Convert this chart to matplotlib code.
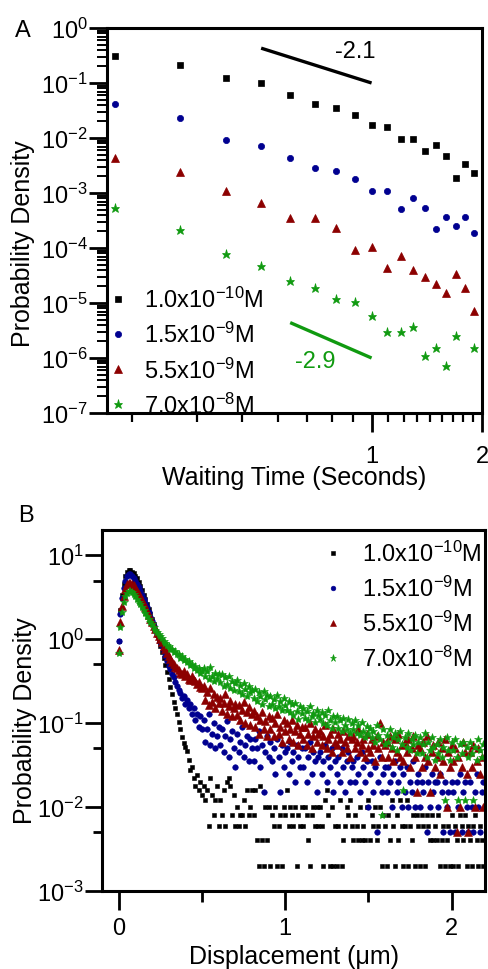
import numpy as np
import matplotlib
matplotlib.use('Agg')
import matplotlib.pyplot as plt
from matplotlib.ticker import LogLocator, FixedLocator, FixedFormatter, NullFormatter, LogFormatterSciNotation

plt.rcParams['font.family'] = ['Liberation Sans', 'DejaVu Sans']
plt.rcParams['mathtext.fontset'] = 'custom'
plt.rcParams['mathtext.rm'] = 'Liberation Sans'
plt.rcParams['mathtext.it'] = 'Liberation Sans:italic'
plt.rcParams['mathtext.bf'] = 'Liberation Sans:bold'
plt.rcParams['mathtext.default'] = 'regular'
plt.rcParams['axes.unicode_minus'] = False

# ---------------- data ----------------
labels = ['1.0x10$^{-10}$M', '1.5x10$^{-9}$M', '5.5x10$^{-9}$M', '7.0x10$^{-8}$M']
colors = ['#000000', '#000090', '#8c0000', '#109a10']

# Panel A: waiting time distributions
wait_time = [0.2, 0.3, 0.4, 0.5, 0.6, 0.7, 0.8, 0.9, 1.0, 1.1, 1.2, 1.3, 1.4, 1.5, 1.6, 1.7, 1.8, 1.9]
waitA_black = [0.31, 0.21, 0.123, 0.10, 0.061, 0.041, 0.035, 0.026, 0.017, 0.016, 0.0095, 0.0095,
               0.0058, 0.0075, 0.0047, 0.0019, 0.0034, 0.0023]
waitA_blue = [0.041, 0.023, 0.0092, 0.0072, 0.0044, 0.0028, 0.0025, 0.0018, 0.0011, 0.0011, 5.1e-4, 8.0e-4,
              5.3e-4, 2.2e-4, 3.7e-4, 2.5e-4, 3.7e-4, 1.9e-4]
waitA_red = [0.0044, 0.0024, 0.0011, 6.6e-4, 3.5e-4, 3.5e-4, 2.3e-4, 9.2e-5, 1.04e-4, 4.3e-5, 7.1e-5, 4.0e-5,
             3.0e-5, 2.2e-5, 1.5e-5, 3.4e-5, 1.9e-5, 7.1e-6]
waitA_green = [5.3e-4, 2.1e-4, 7.8e-5, 4.7e-5, 2.5e-5, 1.9e-5, 1.2e-5, 1.05e-5, 5.8e-6, 3.0e-6, 3.0e-6, 3.7e-6,
               1.1e-6, 1.5e-6, 7.1e-7, 2.5e-6, np.nan, 1.5e-6]
slope1_t = [0.5, 1.0]
slope1_p = [0.43, 0.10]
slope2_t = [0.6, 1.0]
slope2_p = [4.4e-6, 1.0e-6]

# Panel B: displacement distributions (bins of 0.01 um), values = counts * unit
disp_um = np.round(np.arange(0, 220) * 0.01, 2)
unit_black, unit_blue, unit_red, unit_green = 0.002, 0.005, 0.005, 0.004
counts_black = ([475, 1100, 1700, 2300, 2800, 3150, 3300, 3300, 3200, 3050,
                 2850, 2650, 2400, 2150, 1925, 1700, 1500, 1300, 1150, 1000,
                 875, 750, 650, 560, 480, 410, 350, 295, 245, 205,
                 170, 135, 110, 90, 75, 65, 52, 42, 34, 29,
                 26, 23, 18, 14, 15, 11, 9, 12, 8, 10, 7] +
                [9, 6, 8, 3, 11, 7, 4, 6, 9, 3, 6, 4, 8, 3, 10, 11, 9, 4, 7, 3,
                 5, 3, 4, 4, 6, 3, 8, 4, 5, 8, 4, 8, 2, 1, 9, 2, 1, 5, 2, 5,
                 1, 4, 3, 5, 1, 3, 4, 1, 5, 4, 8, 3, 5, 4, 3, 5, 1, 4, 3, 5,
                 3, 5, 4, 2, 1, 4, 5, 3, 5, 3, 5, 3, 1, 6, 8, 4, 1, 5, 1, 3,
                 1, 3, 6, 1, 2, 3, 5, 4, 6, 3, 2, 4, 3, 2, 5, 2, 3, 2, 5, 6,
                 2, 4, 3, 5, 2, 3, 5, 1, 4, 3, 1, 4, 2, 6, 3, 1, 4, 2, 6, 3,
                 1, 3, 6, 1, 3, 2, 4, 1, 4, 3, 1, 4, 3, 1, 4, 3, 2, 4, 2, 3,
                 2, 4, 1, 2, 3, 1, 2, 3, 1, 4, 1, 3, 2, 1, 4, 3, 2, 4, 1, 3,
                 2, 1, 3, 4, 2, 1, 3, 2, 1])
counts_blue = ([190, 400, 620, 820, 1000, 1120, 1180, 1180, 1140, 1080,
                1000, 920, 840, 760, 680, 600, 540, 480, 420, 370,
                330, 290, 260, 230, 204, 184, 164, 144, 126, 110,
                96, 88, 78, 70, 62, 56, 50, 46, 40, 42,
                34, 38, 30, 34, 26, 30, 22, 26, 18, 24, 17] +
               [22, 12, 17, 26, 11, 15, 20, 10, 14, 18, 11, 17, 9, 14, 21, 8, 13, 16, 10, 6,
                15, 9, 12, 18, 8, 11, 14, 7, 13, 10, 7, 13, 10, 16, 6, 11, 3, 9, 14, 8,
                12, 7, 10, 5, 13, 8, 3, 11, 6, 9, 10, 5, 12, 7, 9, 4, 11, 8, 6, 10,
                6, 10, 4, 8, 12, 5, 9, 7, 3, 8, 9, 5, 7, 11, 4, 8, 6, 10, 3, 7,
                5, 8, 4, 10, 6, 3, 7, 9, 4, 6, 7, 4, 8, 5, 3, 9, 6, 4, 7, 2,
                5, 7, 3, 6, 1, 4, 8, 3, 5, 6, 3, 6, 4, 2, 5, 7, 3, 4, 6, 2,
                5, 3, 6, 2, 4, 3, 7, 2, 4, 5, 2, 4, 3, 6, 1, 4, 2, 5, 3, 4,
                4, 2, 5, 3, 1, 4, 2, 3, 1, 4, 3, 1, 4, 2, 5, 1, 3, 4, 2, 1,
                4, 2, 1, 3, 5, 2, 1, 3, 4])
counts_red = ([150, 320, 500, 660, 800, 900, 940, 940, 920, 880,
               820, 760, 700, 640, 580, 520, 480, 430, 390, 350,
               320, 290, 264, 240, 220, 200, 184, 168, 152, 138,
               126, 116, 108, 100, 94, 90, 86, 80, 76, 84,
               72, 78, 68, 66, 72, 66, 64, 58, 62, 54, 52] +
              [56, 38, 47, 33, 52, 36, 44, 30, 41, 35, 40, 28, 35, 44, 26, 32, 37, 24, 30, 34,
               25, 33, 22, 29, 36, 20, 27, 31, 19, 26, 28, 18, 24, 15, 22, 27, 17, 21, 14, 24,
               17, 23, 14, 20, 26, 15, 18, 12, 22, 16, 20, 13, 17, 22, 12, 16, 19, 11, 15, 18,
               13, 18, 11, 15, 20, 10, 14, 17, 12, 15, 16, 11, 14, 19, 10, 13, 15, 9, 17, 12,
               11, 15, 13, 9, 16, 12, 10, 14, 8, 13, 14, 10, 12, 17, 9, 11, 13, 8, 15, 10,
               9, 13, 11, 7, 14, 10, 20, 8, 12, 11, 12, 8, 14, 10, 7, 13, 9, 15, 8, 11,
               7, 12, 9, 13, 6, 10, 14, 8, 3, 11, 10, 6, 12, 8, 14, 7, 3, 9, 11, 6,
               8, 12, 5, 10, 7, 13, 2, 9, 6, 11, 7, 10, 1, 8, 2, 6, 12, 9, 5, 1,
               9, 6, 11, 2, 7, 10, 5, 8, 2])
counts_green = ([170, 350, 525, 700, 825, 900, 938, 938, 912, 862,
                 812, 750, 700, 650, 600, 550, 512, 475, 438, 405,
                 375, 350, 325, 305, 288, 270, 255, 240, 225, 215,
                 205, 190, 192, 176, 180, 165, 168, 150, 156, 142,
                 146, 132, 138, 122, 128, 114, 120, 106, 112, 100, 104] +
                [112, 90, 104, 84, 118, 92, 80, 100, 86, 95, 78, 96, 70, 88, 74, 92, 66, 80, 62, 76,
                 82, 60, 72, 56, 76, 64, 52, 70, 58, 62, 50, 64, 46, 58, 52, 42, 60, 48, 54, 40,
                 52, 42, 48, 38, 54, 40, 46, 36, 50, 41, 36, 46, 34, 42, 31, 44, 35, 28, 40, 33,
                 38, 29, 35, 27, 40, 30, 33, 26, 36, 31, 28, 34, 25, 31, 24, 36, 27, 22, 30, 26,
                 30, 22, 27, 20, 29, 24, 21, 28, 19, 25, 21, 27, 19, 24, 18, 26, 20, 17, 23, 19,
                 22, 17, 20, 15, 24, 18, 16, 2, 21, 14, 18, 15, 21, 13, 17, 19, 12, 16, 20, 14,
                 4, 17, 13, 19, 12, 16, 14, 18, 11, 15, 17, 11, 14, 19, 10, 15, 12, 17, 13, 9,
                 14, 11, 16, 10, 13, 3, 17, 12, 9, 15, 12, 16, 10, 3, 14, 11, 15, 3, 13, 10,
                 15, 11, 3, 13, 9, 16, 12, 10, 14])

# ---------------- figure ----------------
W, H = 489, 970
fig = plt.figure(figsize=(W / 100, H / 100), dpi=100)
fig.patch.set_facecolor('white')

def frac_rect(l, t, r, b):
    return [l / W, 1 - b / H, (r - l) / W, (b - t) / H]

# ---- Panel A ----
ax1 = fig.add_axes(frac_rect(107, 29, 482, 414))
ax1.set_xscale('log')
ax1.set_yscale('log')
specsA = [('s', 4.0), ('o', 4.5), ('^', 5.8), ('*', 6.5)]
seriesA = [waitA_black, waitA_blue, waitA_red, waitA_green]
for vals, (m, ms), c, lab in zip(seriesA, specsA, colors, labels):
    ax1.plot(wait_time, vals, ls='none', marker=m, ms=ms, color=c, mec=c, mew=0.5, label=lab)
ax1.plot(slope1_t, slope1_p, color='black', lw=2.4, solid_capstyle='butt')
ax1.plot(slope2_t, slope2_p, color=colors[3], lw=2.4, solid_capstyle='butt')
ax1.text(0.9, 0.38, '-2.1', fontsize=17, ha='center', va='center', color='black')
ax1.text(0.70, 8.9e-7, '-2.9', fontsize=17, ha='center', va='center', color=colors[3])
ax1.set_xlim(0.19, 2.0)
ax1.set_ylim(1e-7, 1)
ax1.xaxis.set_major_locator(FixedLocator([1, 2]))
ax1.xaxis.set_major_formatter(FixedFormatter(['1', '2']))
ax1.xaxis.set_minor_locator(FixedLocator([k / 9 for k in range(2, 9)] + [1 + k / 9 for k in range(1, 9)]))
ax1.xaxis.set_minor_formatter(NullFormatter())
ax1.yaxis.set_major_locator(LogLocator(base=10, numticks=20))
ax1.yaxis.set_major_formatter(LogFormatterSciNotation())
ax1.yaxis.set_minor_locator(LogLocator(base=10, subs=np.arange(2, 10), numticks=20))
ax1.yaxis.set_minor_formatter(NullFormatter())
ax1.tick_params(axis='both', which='both', direction='out', top=False, right=False, labelsize=17)
ax1.tick_params(axis='y', which='major', length=13, width=2.0, pad=1)
ax1.tick_params(axis='y', which='minor', length=7, width=1.4)
ax1.tick_params(axis='x', which='major', length=14, width=2.0, pad=9)
ax1.tick_params(axis='x', which='minor', length=6.5, width=1.6)
for s in ax1.spines.values():
    s.set_linewidth(2.2)
ax1.legend(loc='lower left', bbox_to_anchor=(0.011, -0.012), frameon=False, fontsize=17,
           handlelength=0.6, handletextpad=0.8, labelspacing=0.42, borderaxespad=0.0,
           borderpad=0.0, markerscale=1.0)
fig.text(23 / W, 1 - 244 / H, 'Probability Density', rotation=90, ha='center', va='center', fontsize=18)
fig.text(294 / W, 1 - 485 / H, 'Waiting Time (Seconds)', ha='center', va='baseline', fontsize=18)
fig.text(15 / W, 1 - 37 / H, 'A', ha='left', va='baseline', fontsize=17)

# ---- Panel B ----
ax2 = fig.add_axes(frac_rect(102, 531, 485, 892))
ax2.set_yscale('log')
specsB = [('s', 3.3), ('o', 4.0), ('^', 5.2), ('*', 6.0)]
countsB = [counts_black, counts_blue, counts_red, counts_green]
unitsB = [unit_black, unit_blue, unit_red, unit_green]
for cnt, u, (m, ms), c, lab in zip(countsB, unitsB, specsB, colors, labels):
    ax2.plot(disp_um, np.array(cnt) * u, ls='none', marker=m, ms=ms, color=c, mec=c, mew=0.4, label=lab)
ax2.set_xlim(-0.1, 2.2)
ax2.set_ylim(1e-3, 20)
ax2.xaxis.set_major_locator(FixedLocator([0, 1, 2]))
ax2.xaxis.set_major_formatter(FixedFormatter(['0', '1', '2']))
ax2.xaxis.set_minor_locator(FixedLocator([0.5, 1.5]))
ax2.yaxis.set_major_locator(LogLocator(base=10, numticks=20))
ax2.yaxis.set_major_formatter(LogFormatterSciNotation())
ax2.yaxis.set_minor_locator(LogLocator(base=10, subs=[5.0], numticks=20))
ax2.yaxis.set_minor_formatter(NullFormatter())
ax2.tick_params(axis='both', which='both', direction='out', top=False, right=False, labelsize=17)
ax2.tick_params(axis='y', which='major', length=12, width=2.0, pad=1)
ax2.tick_params(axis='y', which='minor', length=6.5, width=2.0)
ax2.tick_params(axis='x', which='major', length=14, width=2.0, pad=5)
ax2.tick_params(axis='x', which='minor', length=8, width=2.0)
for s in ax2.spines.values():
    s.set_linewidth(2.2)
ax2.legend(loc='upper right', bbox_to_anchor=(0.99, 0.97), frameon=False, fontsize=17,
           handlelength=0.6, handletextpad=0.9, labelspacing=0.42, borderaxespad=0.0,
           borderpad=0.0, markerscale=0.85)
fig.text(25 / W, 1 - 721 / H, 'Probability Density', rotation=90, ha='center', va='center', fontsize=18)
fig.text(294 / W, 1 - 964 / H, 'Displacement (\u03bcm)', ha='center', va='baseline', fontsize=18)
fig.text(18 / W, 1 - 522 / H, 'B', ha='left', va='baseline', fontsize=17)

fig.savefig('out.png', dpi=100, facecolor='white')
